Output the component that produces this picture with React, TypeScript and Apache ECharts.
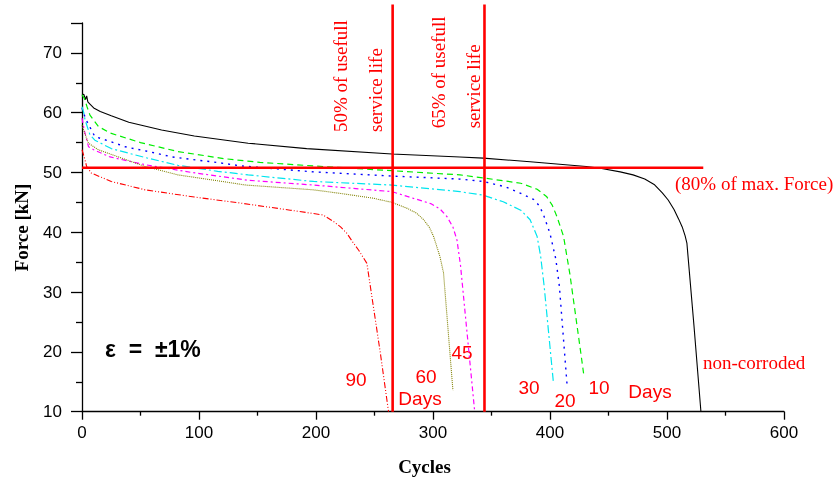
import React, { useEffect, useRef } from "react";
import * as echarts from "echarts";

// Cycles / Force [kN] pairs
const nonCorroded: number[][] = [
  [0, 62.9], [1.5, 63.1], [3, 62.2], [4, 62.8], [5, 61.8], [7, 61.4], [10, 60.8], [15.6, 60.2],
  [25, 59.5], [40, 58.4], [68, 57.1], [96, 56.1], [142, 54.9], [192, 54.0], [265, 53.1],
  [323, 52.6], [343, 52.4], [383, 51.8], [431, 51.0], [443, 50.7], [460, 50.1], [471, 49.6],
  [481, 48.9], [489, 48.0], [496, 46.6], [501, 45.4], [506, 43.8], [510, 42.2], [513, 40.9],
  [515.5, 39.4], [517, 38.2], [523, 24.5], [529, 10],
];
const days10: number[][] = [
  [0, 63], [2, 62.4], [4.3, 61], [6.8, 59.6], [14, 57.7], [24, 56.6], [50, 55.0], [82, 53.5],
  [122, 52.3], [152, 51.7], [198, 51.1], [265, 50.3], [323, 49.6], [343, 49.1], [375, 48.2],
  [389, 47.2], [397, 46.0], [402, 44.5], [406, 42.6], [411.6, 39.3], [417, 33.0], [426, 20.3],
  [428.7, 16.4],
];
const days20: number[][] = [
  [0, 60.8], [3, 59], [7, 57.5], [11, 56.0], [24, 55.2], [37, 54.3], [57, 53.5], [77, 52.6],
  [97, 52.1], [111, 51.8], [136, 51.1], [198, 50.1], [265, 49.4], [323, 48.9], [343, 48.5],
  [362, 47.6], [375, 46.5], [386, 45.5], [391, 44.4], [394.5, 42.9], [400, 39.8], [405, 35.5],
  [408, 31], [414.5, 14.7],
];
const days30: number[][] = [
  [0, 61], [1.5, 60], [2.6, 58.8], [6.8, 56.3], [11, 55.4], [25, 54.0], [54, 52.5], [82, 51.2],
  [116, 50.2], [142, 49.6], [198, 48.5], [265, 47.9], [323, 46.8], [343, 46.2], [360, 45.1],
  [375, 43.7], [383, 42.1], [389, 39.3], [392, 36.0], [395, 31.0], [403, 14.7],
];
const days45: number[][] = [
  [0, 59.1], [2, 57], [5.6, 54.3], [10, 53.8], [24, 52.6], [54, 51.3], [94, 50.0], [142, 48.7],
  [198, 47.9], [265, 46.8], [278, 46.0], [298, 44.8], [306, 43.9], [312, 42.6], [317, 40.9],
  [320.5, 38.7], [323.5, 34.5], [335.5, 10.3],
];
const days60: number[][] = [
  [0, 57.9], [2.5, 56.5], [5.5, 54.9], [14, 53.8], [34, 52.4], [54, 51.0], [82, 49.6],
  [116.5, 48.6], [140, 47.9], [198, 47.1], [221, 46.5], [249, 45.7], [265, 45.0], [278, 44.0],
  [286, 43.2], [292, 42.1], [297, 40.8], [300.5, 39.3], [306, 35.9], [309, 33.2], [317, 13.6],
];
const days90: number[][] = [
  [0, 53.8], [2, 52.5], [4, 51.0], [8, 49.9], [25, 48.5], [54, 47.1], [96, 45.9], [135, 44.9],
  [178, 43.7], [206, 42.9], [215, 41.8], [221, 40.9], [226.5, 39.8], [232, 38.2], [236.5, 37.0],
  [243.5, 34.8], [255, 19.8], [262, 10],
];

// reference lines
const forceLimit = 50.8; // 80% of max. force
const forceLimitEnd = 531;
const life50 = 265.5;
const life65 = 344;
const refLineTop = 78.1;

const xTicks = { min: 0, max: 600, interval: 100 };
const yTicks = { min: 10, max: 75, interval: 10 };

const serif = "'Liberation Serif', 'Times New Roman', serif";
const sans = "'Liberation Sans', Arial, Helvetica, sans-serif";

export default function App() {
  const ref = useRef<HTMLDivElement>(null);
  useEffect(() => {
    if (!ref.current) return;
    const chart = echarts.init(ref.current, null, { renderer: "svg" });
    const curve = (name: string, data: number[][], color: string, type: any, width = 1) => ({
      name,
      type: "line",
      data,
      symbol: "none",
      smooth: false,
      lineStyle: { color, width, type },
      z: 3,
    });
    const redLine = (data: number[][]) => ({
      type: "line",
      data,
      symbol: "none",
      clip: false,
      lineStyle: { color: "#ff0000", width: 2.6 },
      z: 4,
      silent: true,
    });
    const redText = (text: string, x: number, y: number, fontFamily: string, align = "center") => ({
      type: "text",
      x,
      y,
      style: { text, fill: "#ff0000", font: `19px ${fontFamily}`, textAlign: align, textVerticalAlign: "middle" },
    });
    const vText = (text: string, x: number, y: number) => ({
      type: "text",
      x,
      y,
      rotation: Math.PI / 2,
      style: { text, fill: "#ff0000", font: `19px ${serif}`, textAlign: "left", textVerticalAlign: "middle" },
    });
    chart.setOption({
      animation: false,
      grid: { left: 82, right: 55, top: 23, bottom: 67.3, containLabel: false },
      xAxis: {
        type: "value",
        min: xTicks.min,
        max: xTicks.max,
        interval: xTicks.interval,
        axisLine: { show: true, onZero: false, lineStyle: { color: "#000", width: 1.3 } },
        axisTick: { show: true, length: 8, lineStyle: { color: "#000", width: 1.3 } },
        minorTick: { show: true, splitNumber: 2, length: 4, lineStyle: { color: "#000", width: 1.3 } },
        splitLine: { show: false },
        axisLabel: { color: "#000", fontSize: 17, fontFamily: sans, margin: 12 },
      },
      yAxis: {
        type: "value",
        min: yTicks.min,
        max: yTicks.max,
        interval: yTicks.interval,
        axisLine: { show: true, onZero: false, lineStyle: { color: "#000", width: 1.3 } },
        axisTick: { show: true, length: 11, lineStyle: { color: "#000", width: 1.3 } },
        minorTick: { show: true, splitNumber: 2, length: 6, lineStyle: { color: "#000", width: 1.3 } },
        splitLine: { show: false },
        axisLabel: { color: "#000", fontSize: 17, fontFamily: sans, margin: 20, showMaxLabel: false },
      },
      series: [
        curve("non-corroded", nonCorroded, "#000000", "solid", 1.1),
        curve("10", days10, "#00ee00", [6, 4], 1.2),
        curve("20", days20, "#0000ff", [2, 5], 1.4),
        curve("30", days30, "#00e5ee", [8, 3, 2, 3], 1.2),
        curve("45", days45, "#ff00ff", [5, 3, 2, 3], 1.2),
        curve("60", days60, "#808000", [1, 1], 1.1),
        curve("90", days90, "#ff0000", [6, 2, 1, 2, 1, 2], 1.1),
        redLine([[0, forceLimit], [forceLimitEnd, forceLimit]]),
        redLine([[life50, yTicks.min], [life50, refLineTop]]),
        redLine([[life65, yTicks.min], [life65, refLineTop]]),
      ],
      graphic: [
        {
          type: "text",
          x: 21.6,
          y: 227.5,
          rotation: Math.PI / 2,
          style: { text: "Force [kN]", fill: "#000", font: `bold 19px ${serif}`, textAlign: "center", textVerticalAlign: "middle" },
        },
        {
          type: "text",
          x: 424.5,
          y: 466,
          style: { text: "Cycles", fill: "#000", font: `bold 19px ${serif}`, textAlign: "center", textVerticalAlign: "middle" },
        },
        vText("50% of usefull", 340.3, 132),
        vText("service life", 375.3, 132),
        vText("65% of usefull", 438.6, 128.3),
        vText("service life", 473.6, 128.3),
        redText("(80% of max. Force)", 675, 183.5, serif, "left"),
        redText("non-corroded", 703, 362, serif, "left"),
        redText("90", 356, 379, sans),
        redText("60", 426, 376, sans),
        redText("Days", 420, 398.4, sans),
        redText("45", 462, 352.7, sans),
        redText("30", 529, 387.7, sans),
        redText("20", 565, 400, sans),
        redText("10", 599, 387.4, sans),
        redText("Days", 650, 391.7, sans),
        {
          type: "text",
          x: 105,
          y: 348.5,
          style: { text: "ε  =  ±1%", fill: "#000", font: `bold 23px ${sans}`, textAlign: "left", textVerticalAlign: "middle" },
        },
      ],
    });
    return () => chart.dispose();
  }, []);
  return <div ref={ref} style={{ position: "fixed", left: 0, top: 0, width: 839, height: 479 }} />;
}
